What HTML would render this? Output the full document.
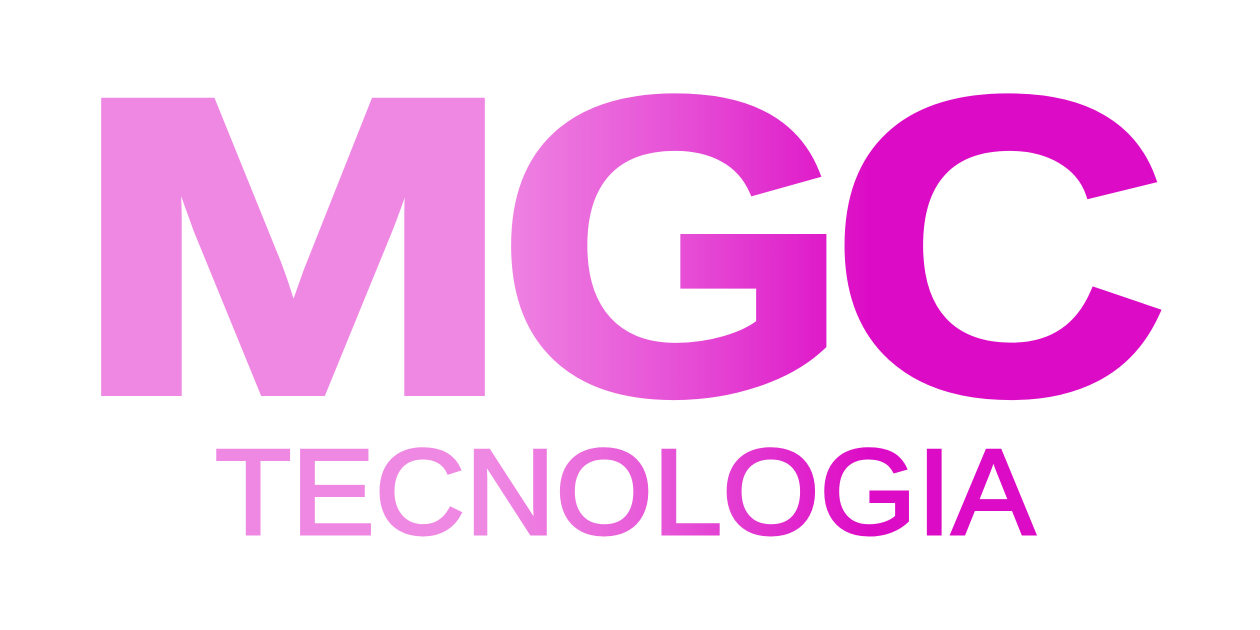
<!DOCTYPE html>
<html>
<head>
<meta charset="utf-8">
<style>
  html,body{margin:0;padding:0;background:#ffffff;}
  svg{display:block;}
</style>
</head>
<body>
<svg width="1260" height="630" viewBox="0 0 1260 630">
  <defs>
    <linearGradient id="g" gradientUnits="userSpaceOnUse" x1="490" y1="0" x2="870" y2="0">
      <stop offset="0" stop-color="#ef88e3"/>
      <stop offset="0.5" stop-color="#e650d6"/>
      <stop offset="1" stop-color="#dc0bc5"/>
    </linearGradient>
  </defs>
  <rect width="1260" height="630" fill="#ffffff"/>
  <g font-family="Liberation Sans, sans-serif" font-weight="900" font-size="419" fill="url(#g)" stroke="url(#g)" stroke-width="10">
    <text x="72" y="391" textLength="442" lengthAdjust="spacingAndGlyphs">M</text>
    <text x="498" y="391" textLength="351" lengthAdjust="spacingAndGlyphs">G</text>
    <text x="831" y="391" textLength="336" lengthAdjust="spacingAndGlyphs">C</text>
  </g>
  <text x="215" y="534" font-family="Liberation Sans, sans-serif" font-weight="400" font-size="122"
        textLength="820" lengthAdjust="spacingAndGlyphs" fill="url(#g)" stroke="url(#g)" stroke-width="3"
       >TECNOLOGIA</text>
</svg>
</body>
</html>
